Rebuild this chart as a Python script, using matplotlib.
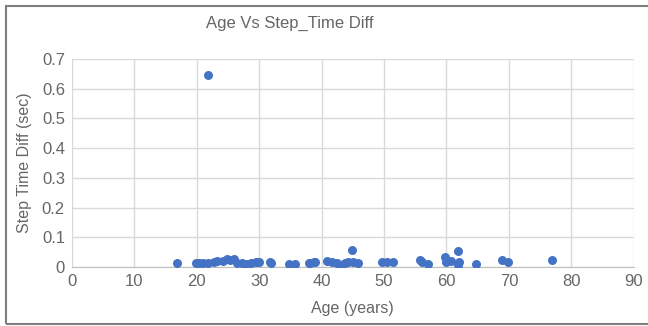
import matplotlib
matplotlib.use("Agg")
import matplotlib.pyplot as plt
from matplotlib.patches import Rectangle

plt.rcParams['font.family'] = ['Liberation Sans', 'DejaVu Sans']

# ages (years) and step time difference (sec)
ages = [16.9, 19.8, 20.3, 21.0, 21.8, 22.7, 23.3, 24.2, 24.8, 25.3, 25.9,
        26.5, 27.2, 27.9, 28.7, 29.5, 29.9, 31.8, 31.9, 34.7, 35.7, 37.9,
        38.2, 38.7, 38.9, 40.8, 41.6, 42.4, 42.9, 43.8, 44.2, 44.8, 45.1,
        45.9, 49.6, 50.4, 51.5, 55.8, 56.0, 57.1, 59.8, 60.0, 60.8, 61.9,
        62.0, 61.9, 64.8, 68.9, 69.9, 76.9, 21.8]
step_diff = [0.015, 0.012, 0.014, 0.012, 0.014, 0.018, 0.019, 0.020, 0.026,
             0.022, 0.027, 0.014, 0.012, 0.010, 0.013, 0.016, 0.018, 0.018,
             0.012, 0.010, 0.010, 0.015, 0.012, 0.016, 0.016, 0.020, 0.016,
             0.014, 0.007, 0.012, 0.016, 0.056, 0.016, 0.014, 0.016, 0.016,
             0.016, 0.022, 0.016, 0.010, 0.033, 0.018, 0.020, 0.055, 0.016,
             0.006, 0.010, 0.024, 0.016, 0.025, 0.645]

x_ticks = list(range(0, 91, 10))
y_ticks = [0, 0.1, 0.2, 0.3, 0.4, 0.5, 0.6, 0.7]
y_labels = ['0', '0.1', '0.2', '0.3', '0.4', '0.5', '0.6', '0.7']

text_grey = '#666666'

fig = plt.figure(figsize=(6.48, 3.26), dpi=100)
ax = fig.add_axes([0.111, 0.181, 0.867, 0.638])

ax.scatter(ages, step_diff, s=42, color='#4472C4', zorder=3, linewidths=0)

ax.set_xlim(0, 90)
ax.set_ylim(0, 0.7)
ax.set_xticks(x_ticks)
ax.set_yticks(y_ticks)
ax.set_yticklabels(y_labels)
ax.grid(True, color='#d9d9d9', linewidth=1)
ax.set_axisbelow(True)
for side in ['top', 'right', 'left']:
    ax.spines[side].set_visible(False)
ax.spines['bottom'].set_color('#bfbfbf')
ax.tick_params(length=0, labelsize=12, colors=text_grey, pad=5)

ax.set_xlabel('Age (years)', fontsize=11.5, color=text_grey, labelpad=9)
ax.set_ylabel('Step Time Diff (sec)', fontsize=11.5, color=text_grey, labelpad=7)
fig.text(0.447, 0.928, 'Age Vs Step_Time Diff', fontsize=12, color=text_grey,
         ha='center', va='center')

# chart frame
fig.patches.append(Rectangle((6 / 648, 2 / 326), 1.1, 318 / 326,
                             transform=fig.transFigure, fill=False,
                             edgecolor='#7f7f7f', linewidth=1.5))

fig.savefig('out.png', dpi=100)
